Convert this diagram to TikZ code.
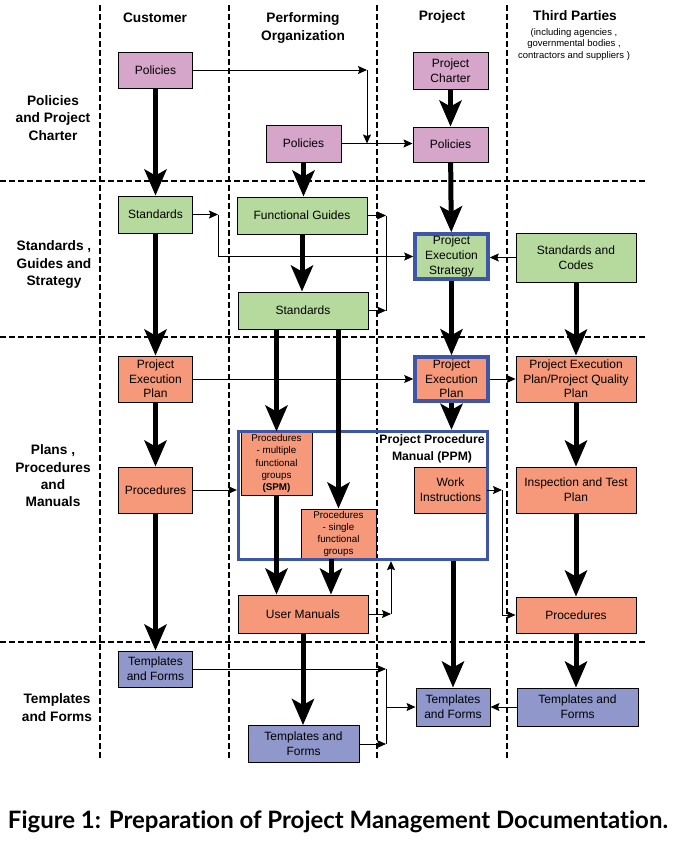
\documentclass[tikz,border=0pt]{standalone}
\usepackage{fontspec}
\setmainfont{Liberation Sans}
\newfontfamily\captionfont[Ligatures=NoCommon]{Lato}
\usepackage{graphicx}
\usepackage{tikz}
\usetikzlibrary{positioning, calc, arrows.meta}
\definecolor{polpink}{HTML}{D6A5CA}
\definecolor{stdgreen}{HTML}{B6DA9D}
\definecolor{planorange}{HTML}{F5997A}
\definecolor{formblue}{HTML}{8F97CB}
\definecolor{ppmblue}{HTML}{3F56A6}

\begin{document}
\begin{tikzpicture}[x=1pt, y=-1pt,
    doc/.style={draw=black, line width=0.9pt, inner sep=1pt, align=center,
      font=\fontsize{12}{14.7}\selectfont},
    smalldoc/.style={doc, font=\fontsize{9.8}{12.3}\selectfont},
    keydoc/.style={draw=ppmblue, line width=3.5pt},
    heading/.style={font=\fontsize{13.7}{17.3}\selectfont\bfseries, align=center, inner sep=0pt},
    lane/.style={line width=1.5pt, dash pattern=on 6pt off 3pt},
    flow/.style={line width=5pt, -{Stealth[length=26pt, width=22pt, inset=6pt]}},
    link/.style={line width=0.9pt, -{Stealth[length=9pt, width=8pt, inset=1.5pt]}},
    plain/.style={line width=0.9pt}
  ]
    \useasboundingbox (0,0) rectangle (677,844);

    % Swim lane separators
    \foreach \lx in {100,229,377,507}
        \draw[lane] (\lx,5) -- (\lx,760);
    \foreach \ly in {181,337,642}
        \draw[lane] (0,\ly) -- (647,\ly);

    % Column headings
    \node[heading] (hcust) at (155,18) {Customer};
    \node[heading] (horg) at (303,28) {Performing\\Organization};
    \node[heading] (hproj) at (442,17) {Project};
    \node[heading] (hthird) at (575,16) {Third Parties};
    \node[align=center, inner sep=0pt, font=\fontsize{9.5}{11.5}\selectfont] (hthirdsub) at (574,44.5)
        {(including agencies ,\\governmental bodies ,\\contractors and suppliers )};

    % Row headings
    \node[heading] (rpol) at (53,118) {Policies\\and Project\\Charter};
    \node[heading] (rstd) at (54,264.5) {Standards ,\\Guides and\\Strategy};
    \node[heading] (rplan) at (53,476) {Plans ,\\Procedures\\and\\Manuals};
    \node[heading] (rform) at (57,707.5) {Templates\\and Forms};

    % Customer column
    \node[doc, fill=polpink, minimum width=74pt, minimum height=36pt] (cpol) at (155.5,70) {Policies};
    \node[doc, fill=stdgreen, minimum width=74pt, minimum height=37pt] (cstd) at (155.5,214.5) {Standards};
    \node[doc, fill=planorange, minimum width=74pt, minimum height=46pt] (cpep) at (155.5,379) {Project\\Execution\\Plan};
    \node[doc, fill=planorange, minimum width=74pt, minimum height=46pt] (cproc) at (155.5,490) {Procedures};
    \node[doc, fill=formblue, minimum width=74pt, minimum height=36pt] (ctmp) at (155.5,669) {Templates\\and Forms};

    % Performing organization column
    \node[doc, fill=polpink, minimum width=75pt, minimum height=37pt] (opol) at (303.5,143.5) {Policies};
    \node[doc, fill=stdgreen, minimum width=130pt, minimum height=37pt] (ofg) at (302,215.5) {Functional Guides};
    \node[doc, fill=stdgreen, minimum width=130pt, minimum height=37pt] (ostd) at (303,310.5) {Standards};
    \node[smalldoc, fill=planorange, minimum width=71pt, minimum height=63pt] (ospm) at (276.5,463.5)
        {Procedures\\- multiple\\functional\\groups\\\textbf{(SPM)}};
    \node[smalldoc, fill=planorange, minimum width=75pt, minimum height=50pt] (osfg) at (338.5,534)
        {Procedures\\- single\\functional\\groups};
    \node[doc, fill=planorange, minimum width=130pt, minimum height=38pt] (oum) at (303,614) {User Manuals};
    \node[doc, fill=formblue, minimum width=111pt, minimum height=37pt] (otmp) at (303.5,744) {Templates and\\Forms};

    % Project column
    \node[doc, fill=polpink, minimum width=75pt, minimum height=37pt] (pch) at (450.5,70.5) {Project\\Charter};
    \node[doc, fill=polpink, minimum width=75pt, minimum height=35pt] (ppol) at (450.5,144.5) {Policies};
    \node[doc, keydoc, fill=stdgreen, minimum width=73pt, minimum height=45pt] (pes) at (451.5,256.5)
        {Project\\Execution\\Strategy};
    \node[doc, keydoc, fill=planorange, minimum width=73pt, minimum height=44pt] (ppep) at (451.5,379)
        {Project\\Execution\\Plan};
    \node[doc, fill=planorange, minimum width=73pt, minimum height=46pt] (pwi) at (450.5,490) {Work\\Instructions};
    \node[doc, fill=formblue, minimum width=74pt, minimum height=38pt] (ptmp) at (453,707) {Templates\\and Forms};

    % Third parties column
    \node[doc, fill=stdgreen, minimum width=120pt, minimum height=49pt] (tsc) at (576,257.5) {Standards and\\Codes};
    \node[doc, fill=planorange, minimum width=120pt, minimum height=46pt] (tpqp) at (576,379)
        {Project Execution\\Plan/Project Quality\\Plan};
    \node[doc, fill=planorange, minimum width=120pt, minimum height=46pt] (titp) at (576,490) {Inspection and Test\\Plan};
    \node[doc, fill=planorange, minimum width=120pt, minimum height=36pt] (tproc) at (576,615) {Procedures};
    \node[doc, fill=formblue, minimum width=121pt, minimum height=38pt] (ttmp) at (577.5,707) {Templates and\\Forms};

    % Project procedure manual frame
    \node[draw=ppmblue, line width=3.3pt, inner sep=0pt, minimum width=249pt, minimum height=128pt] (ppm) at (363,495.5) {};
    \node[heading, font=\fontsize{12.2}{17}\selectfont\bfseries] (ppmtitle) at (432,448.5) {Project Procedure\\Manual (PPM)};

    % Main document flow
    \draw[flow] (cpol) -- (cstd);
    \draw[flow] (cstd) -- (cpep);
    \draw[flow] (cpep) -- (cproc);
    \draw[flow] (cproc) -- (ctmp);
    \draw[flow] (opol.south) -- (opol.south |- ofg.north);
    \draw[flow] (ofg.south) -- (ofg.south |- ostd.north);
    \draw[flow] (ospm.north |- ostd.south) -- (ospm.north);
    \draw[flow] (osfg.north |- ostd.south) -- (osfg.north);
    \draw[flow] (ospm.south) -- (ospm.south |- oum.north);
    \draw[flow] ([xshift=-7.5pt]osfg.south) -- ([xshift=-7.5pt]osfg.south |- oum.north);
    \draw[flow] (oum.south) -- (oum.south |- otmp.north);
    \draw[flow] (pch) -- (ppol);
    \draw[flow] (ppol) -- (pes);
    \draw[flow] (pes) -- (ppep);
    \draw[flow] (ppep.south) -- (ppep.south |- ppm.north);
    \draw[flow] (ptmp.north |- ppm.south) -- (ptmp.north);
    \draw[flow] (tsc) -- (tpqp);
    \draw[flow] (tpqp) -- (titp);
    \draw[flow] (titp) -- (tproc);
    \draw[flow] (tproc.south) -- (tproc.south |- ttmp.north);

    % Policies links
    \coordinate (polturn) at (367,70);
    \draw[link] (cpol.east) -- (polturn);
    \draw[link] (polturn) -- (polturn |- opol.east);
    \draw[link] (opol.east) -- (opol.east -| ppol.west);

    % Standards and guides links
    \coordinate (stdturn) at (218,214.5);
    \draw[link] (cstd.east) -- (stdturn);
    \draw[link] (stdturn) -- (stdturn |- pes.west) -- (pes.west);
    \coordinate (guideturn) at (386,215.5);
    \draw[link] (ofg.east) -- (guideturn);
    \draw[link] (ostd.east) -- (guideturn |- ostd.east);
    \draw[plain] (guideturn) -- (guideturn |- ostd.east);
    \draw[link] (tsc.west) -- (tsc.west -| pes.east);

    % Plans and procedures links
    \draw[link] (cpep.east) -- (ppep.west);
    \draw[link] (ppep.east) -- (tpqp.west);
    \draw[link] (cproc.east) -- (cproc.east -| ppm.west);
    \coordinate (witurn) at (502,490);
    \draw[link] (pwi.east) -- (witurn);
    \draw[link] (witurn) -- (witurn |- tproc.west) -- (tproc.west);
    \coordinate (umturn) at (391,614);
    \draw[link] (oum.east) -- (umturn);
    \draw[link] (umturn) -- (umturn |- ppm.south);

    % Templates links
    \coordinate (formturn) at (386,669);
    \draw[link] (ctmp.east) -- (formturn);
    \draw[link] (otmp.east) -- (formturn |- otmp.east);
    \draw[plain] (formturn) -- (formturn |- otmp.east);
    \draw[link] (formturn |- ptmp.west) -- (ptmp.west);
    \draw[link] (ttmp.west) -- (ptmp.east);

    % Caption
    \node[inner sep=0pt, font=\captionfont\bfseries] (caption) at (338,822)
        {\resizebox{660pt}{!}{Figure 1: Preparation of Project Management Documentation.}};

\end{tikzpicture}
\end{document}
